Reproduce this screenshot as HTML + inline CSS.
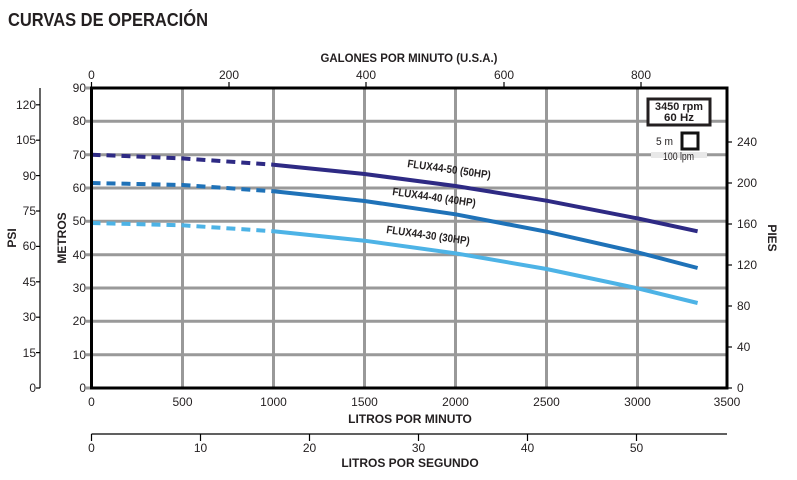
<!DOCTYPE html>
<html><head><meta charset="utf-8"><style>
body{margin:0;background:#fff;}
svg{display:block;font-family:"Liberation Sans Narrow","Liberation Sans",sans-serif;}
</style></head><body>
<svg width="797" height="480" viewBox="0 0 797 480" xmlns="http://www.w3.org/2000/svg">
<text x="8" y="26" font-size="18" font-weight="bold" fill="#231f20" textLength="200" lengthAdjust="spacingAndGlyphs">CURVAS DE OPERACIÓN</text>
<!-- grid -->
<g stroke="#999" stroke-width="3">
<line x1="182.5" y1="88" x2="182.5" y2="388"/>
<line x1="273.5" y1="88" x2="273.5" y2="388"/>
<line x1="364.5" y1="88" x2="364.5" y2="388"/>
<line x1="455.5" y1="88" x2="455.5" y2="388"/>
<line x1="546.5" y1="88" x2="546.5" y2="388"/>
<line x1="637.5" y1="88" x2="637.5" y2="388"/>
<line x1="86" y1="121.3" x2="727" y2="121.3"/>
<line x1="86" y1="154.7" x2="727" y2="154.7"/>
<line x1="86" y1="188" x2="727" y2="188"/>
<line x1="86" y1="221.3" x2="727" y2="221.3"/>
<line x1="86" y1="254.7" x2="727" y2="254.7"/>
<line x1="86" y1="288" x2="727" y2="288"/>
<line x1="86" y1="321.3" x2="727" y2="321.3"/>
<line x1="86" y1="354.7" x2="727" y2="354.7"/>
<line x1="86" y1="88" x2="91" y2="88"/>
<line x1="86" y1="388" x2="91" y2="388"/>
</g>
<!-- legend box -->
<rect x="648" y="99" width="62" height="26" fill="#fff" stroke="#231f20" stroke-width="3"/>
<text x="679" y="110" font-size="11" font-weight="bold" text-anchor="middle" fill="#231f20" textLength="48" lengthAdjust="spacingAndGlyphs">3450 rpm</text>
<text x="679" y="121" font-size="11" font-weight="bold" text-anchor="middle" fill="#231f20" textLength="30" lengthAdjust="spacingAndGlyphs">60 Hz</text>
<rect x="651" y="152" width="56" height="6" fill="#e8e8e8"/>
<rect x="682" y="133" width="16" height="16" fill="#fff" stroke="#111" stroke-width="3"/>
<text x="656" y="145" font-size="11" fill="#231f20" textLength="17" lengthAdjust="spacingAndGlyphs">5 m</text>
<text x="663" y="160" font-size="11" fill="#231f20" textLength="31" lengthAdjust="spacingAndGlyphs">100 lpm</text>
<!-- curves -->
<g fill="none" stroke-width="4">
<path d="M91.5,154.7 L182.5,158.4 L273.5,164.7" stroke="#2e2a84" stroke-dasharray="9,6"/>
<path d="M273.5,164.7 L364.5,174 L455.5,186 L546.5,200.7 L637.5,218.4 L697.6,231.3" stroke="#2e2a84"/>
<path d="M91.5,183 L182.5,185 L273.5,191.3" stroke="#1f72b8" stroke-dasharray="9,6"/>
<path d="M273.5,191.3 L364.5,201 L455.5,214.3 L546.5,231.7 L637.5,252.3 L697.6,268" stroke="#1f72b8"/>
<path d="M91.5,223 L182.5,225.3 L273.5,231.3" stroke="#4db3e6" stroke-dasharray="9,6"/>
<path d="M273.5,231.3 L364.5,240.7 L455.5,253.3 L546.5,269 L637.5,288.3 L697.6,303" stroke="#4db3e6"/>
</g>
<g font-size="11" font-weight="bold" fill="#231f20">
<text x="407" y="167" transform="rotate(8 407 167)" textLength="84" lengthAdjust="spacingAndGlyphs">FLUX44-50 (50HP)</text>
<text x="392" y="195" transform="rotate(8 392 195)" textLength="84" lengthAdjust="spacingAndGlyphs">FLUX44-40 (40HP)</text>
<text x="386" y="233" transform="rotate(8 386 233)" textLength="84" lengthAdjust="spacingAndGlyphs">FLUX44-30 (30HP)</text>
</g>
<!-- frame -->
<rect x="91.5" y="88" width="635.5" height="300" fill="none" stroke="#000" stroke-width="3"/>
<!-- left metros labels -->
<g font-size="12" fill="#231f20" text-anchor="end">
<text x="86" y="92">90</text><text x="86" y="125">80</text><text x="86" y="159">70</text>
<text x="86" y="192">60</text><text x="86" y="225">50</text><text x="86" y="259">40</text>
<text x="86" y="292">30</text><text x="86" y="325">20</text><text x="86" y="359">10</text>
<text x="86" y="392">0</text>
</g>
<text transform="translate(66 238) rotate(-90)" font-size="12" font-weight="bold" text-anchor="middle" fill="#231f20">METROS</text>
<!-- PSI axis -->
<line x1="40" y1="88" x2="40" y2="388" stroke="#000" stroke-width="1.2"/>
<g stroke="#000" stroke-width="1.2">
<line x1="36" y1="388" x2="40" y2="388"/><line x1="36" y1="352.6" x2="40" y2="352.6"/>
<line x1="36" y1="317.2" x2="40" y2="317.2"/><line x1="36" y1="281.8" x2="40" y2="281.8"/>
<line x1="36" y1="246.4" x2="40" y2="246.4"/><line x1="36" y1="211" x2="40" y2="211"/>
<line x1="36" y1="175.6" x2="40" y2="175.6"/><line x1="36" y1="140.2" x2="40" y2="140.2"/>
<line x1="36" y1="104.8" x2="40" y2="104.8"/>
</g>
<g font-size="12" fill="#231f20" text-anchor="end">
<text x="36" y="392">0</text><text x="36" y="357">15</text><text x="36" y="321">30</text>
<text x="36" y="286">45</text><text x="36" y="250">60</text><text x="36" y="215">75</text>
<text x="36" y="180">90</text><text x="36" y="144">105</text><text x="36" y="109">120</text>
</g>
<text transform="translate(16 238) rotate(-90)" font-size="12" font-weight="bold" text-anchor="middle" fill="#231f20">PSI</text>
<!-- PIES axis -->
<g stroke="#000" stroke-width="1.2">
<line x1="727" y1="388" x2="732" y2="388"/><line x1="727" y1="347" x2="732" y2="347"/>
<line x1="727" y1="306" x2="732" y2="306"/><line x1="727" y1="265" x2="732" y2="265"/>
<line x1="727" y1="224" x2="732" y2="224"/><line x1="727" y1="183" x2="732" y2="183"/>
<line x1="727" y1="142" x2="732" y2="142"/>
</g>
<g font-size="12" fill="#231f20">
<text x="737" y="392">0</text><text x="737" y="351">40</text><text x="737" y="310">80</text>
<text x="737" y="269">120</text><text x="737" y="228">160</text><text x="737" y="187">200</text>
<text x="737" y="146">240</text>
</g>
<text transform="translate(768 238) rotate(90)" font-size="12" font-weight="bold" text-anchor="middle" fill="#231f20">PIES</text>
<!-- top GPM -->
<g stroke="#000" stroke-width="1.2">
<line x1="91.5" y1="82" x2="91.5" y2="88"/><line x1="229" y1="82" x2="229" y2="88"/>
<line x1="366" y1="82" x2="366" y2="88"/><line x1="504" y1="82" x2="504" y2="88"/>
<line x1="641" y1="82" x2="641" y2="88"/>
</g>
<g font-size="12" fill="#231f20" text-anchor="middle">
<text x="91.5" y="79">0</text><text x="229" y="79">200</text><text x="366" y="79">400</text>
<text x="504" y="79">600</text><text x="641" y="79">800</text>
</g>
<text x="409" y="62" font-size="12" font-weight="bold" text-anchor="middle" fill="#231f20" textLength="177" lengthAdjust="spacingAndGlyphs">GALONES POR MINUTO (U.S.A.)</text>
<!-- bottom LPM -->
<g font-size="12" fill="#231f20" text-anchor="middle">
<text x="91.5" y="406">0</text><text x="182.5" y="406">500</text><text x="273.5" y="406">1000</text>
<text x="364.5" y="406">1500</text><text x="455.5" y="406">2000</text><text x="546.5" y="406">2500</text>
<text x="637.5" y="406">3000</text><text x="727" y="406">3500</text>
</g>
<text x="410" y="423" font-size="12" font-weight="bold" text-anchor="middle" fill="#231f20">LITROS POR MINUTO</text>
<!-- LPS axis -->
<line x1="91.5" y1="434" x2="727" y2="434" stroke="#000" stroke-width="1.2"/>
<g stroke="#000" stroke-width="1.2">
<line x1="91.5" y1="434" x2="91.5" y2="441"/><line x1="200.5" y1="434" x2="200.5" y2="441"/>
<line x1="309.5" y1="434" x2="309.5" y2="441"/><line x1="418.5" y1="434" x2="418.5" y2="441"/>
<line x1="527.5" y1="434" x2="527.5" y2="441"/><line x1="636.5" y1="434" x2="636.5" y2="441"/>
</g>
<g font-size="12" fill="#231f20" text-anchor="middle">
<text x="91.5" y="452">0</text><text x="200.5" y="452">10</text><text x="309.5" y="452">20</text>
<text x="418.5" y="452">30</text><text x="527.5" y="452">40</text><text x="636.5" y="452">50</text>
</g>
<text x="410" y="467" font-size="12" font-weight="bold" text-anchor="middle" fill="#231f20">LITROS POR SEGUNDO</text>
</svg>
</body></html>
